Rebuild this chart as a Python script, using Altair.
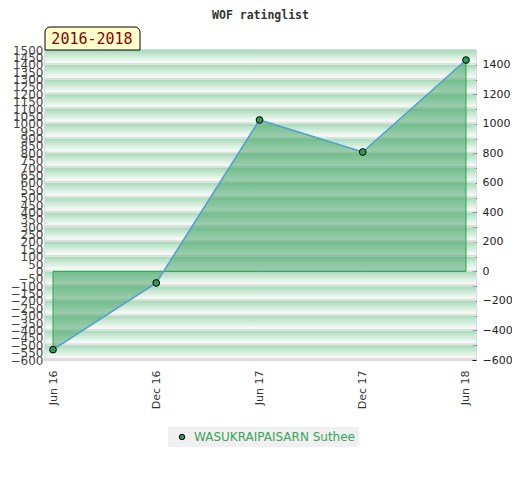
import altair as alt
import pandas as pd

# ---- data ----
periods = ["Jun 16", "Dec 16", "Jun 17", "Dec 17", "Jun 18"]
ratings = [-530, -78, 1026, 809, 1432]
player = "WASUKRAIPAISARN Suthee"
period_label = "2016-2018"
left_ticks = list(range(-600, 1501, 50))
right_ticks = list(range(-600, 1401, 100))
band_lows = list(range(-600, 1500, 100))

df = pd.DataFrame({
    "idx": list(range(len(periods))),
    "period": periods,
    "rating": ratings,
    "player": [player] * len(periods),
})
bands = pd.DataFrame({"lo": band_lows, "hi": [b + 100 for b in band_lows]})
tab = pd.DataFrame({"t": [period_label]})

yscale = alt.Scale(domain=[-600, 1500], nice=False, zero=False)
xscale = alt.Scale(domain=[-0.0775, 4.097], nice=False, zero=False)

xaxis = alt.Axis(
    values=list(range(len(periods))),
    labelExpr=f"{periods}[datum.value]",
    labelAngle=-90, ticks=False, domain=False, grid=False,
    labelPadding=10, labelFontSize=11, labelColor="#333",
    labelFont="DejaVu Sans", title=None, labelFlush=False,
)

grad = alt.Gradient(
    gradient="linear", x1=0, y1=0, x2=0, y2=1,
    stops=[
        alt.GradientStop(color="#a6d9b8", offset=0),
        alt.GradientStop(color="#c8e9d3", offset=0.35),
        alt.GradientStop(color="#f2f9f4", offset=0.78),
        alt.GradientStop(color="#f2f9f4", offset=0.87),
        alt.GradientStop(color="#e2dcdc", offset=0.89),
        alt.GradientStop(color="#e2dcdc", offset=1),
    ],
)

bg = alt.Chart(bands).mark_rect(fill=grad).encode(
    x=alt.value(0), x2=alt.value("width"),
    y=alt.Y("hi:Q", scale=yscale, axis=alt.Axis(
        orient="left", values=left_ticks, format="d", labelOverlap=False,
        labelFlush=False, ticks=False, domain=False, grid=False,
        labelFontSize=12, labelColor="#444", labelPadding=2, title=None,
        labelFont="DejaVu Sans")),
    y2="lo:Q",
)

area = alt.Chart(df).mark_area(
    fill="#3ca05f", fillOpacity=0.5, stroke="#2ea352", strokeWidth=1
).encode(
    x=alt.X("idx:Q", scale=xscale, axis=xaxis),
    y=alt.Y("rating:Q", scale=yscale, axis=None),
    y2=alt.datum(0),
)

line = alt.Chart(df).mark_line(color="#5b9fd6", strokeWidth=1.5).encode(
    x=alt.X("idx:Q", scale=xscale, axis=xaxis),
    y=alt.Y("rating:Q", scale=yscale, axis=None),
)

points = alt.Chart(df).mark_point(
    filled=True, size=45, stroke="black", strokeWidth=1, opacity=1
).encode(
    x=alt.X("idx:Q", scale=xscale, axis=xaxis),
    y=alt.Y("rating:Q", scale=yscale, axis=alt.Axis(
        orient="right", values=right_ticks, format="d",
        labelExpr="datum.value % 200 == 0 ? datum.label : ''",
        tickColor="black", tickSize=4, offset=-4, domain=False, grid=False,
        labelPadding=6, labelFontSize=11, labelColor="#222",
        labelOverlap=False, labelFlush=False, title=None, labelFont="DejaVu Sans")),
    color=alt.Color("player:N", scale=alt.Scale(range=["#2f9a52"]), legend=alt.Legend(
        orient="none", legendX=123, legendY=377, title=None,
        fillColor="#f0f0f0", padding=4, symbolOffset=4, symbolType="circle",
        symbolSize=30, symbolStrokeColor="black", symbolStrokeWidth=1,
        symbolFillColor="#2f9a52", labelColor="#3aa35a", labelFontSize=12,
        labelFont="DejaVu Sans", labelOffset=6, labelLimit=400)),
)

tab_box = alt.Chart(tab).mark_rect(
    fill="#ffffcc", stroke="black", strokeWidth=1,
    cornerRadiusTopLeft=5, cornerRadiusTopRight=5,
).encode(x=alt.value(0), x2=alt.value(95), y=alt.value(-23), y2=alt.value(0))

tab_text = alt.Chart(tab).mark_text(
    font="DejaVu Sans Mono", fontSize=15, color="#8b0000"
).encode(x=alt.value(47), y=alt.value(-11), text="t:N")

chart = alt.layer(bg, area, line, points, tab_box, tab_text).resolve_scale(
    y="independent"
).properties(
    width=431, height=310,
    padding={"left": 37, "top": 42, "right": 36, "bottom": 112},
    autosize="none",
    title=alt.TitleParams(
        "WOF ratinglist", font="DejaVu Sans Mono", fontSize=11.5,
        fontWeight="bold", color="#333", offset=5, anchor="middle", frame="group"),
).configure_view(stroke="#cfcfcf", strokeWidth=1.5)

chart.save("out.html", embed_options={"renderer": "svg", "actions": False})
